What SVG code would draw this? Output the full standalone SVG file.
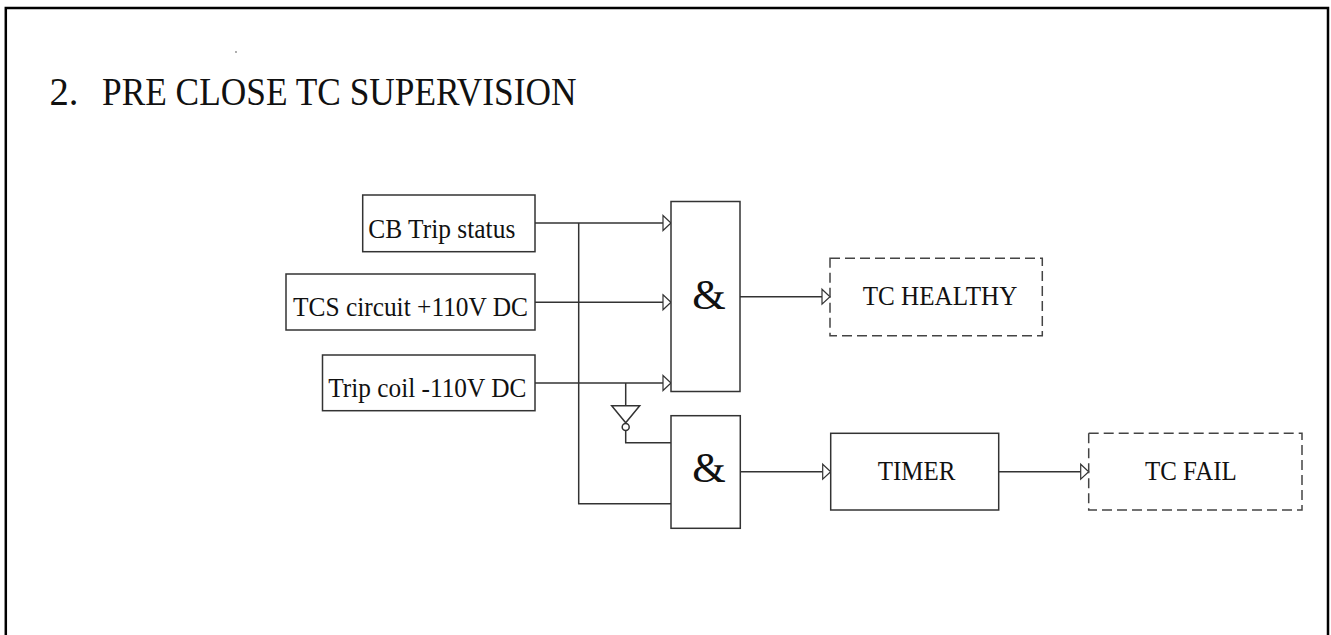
<svg xmlns="http://www.w3.org/2000/svg" width="1331" height="635" viewBox="0 0 1331 635">
<style>
.t{font-family:"Liberation Serif","Times New Roman",serif;fill:#111;}
.box{fill:#fff;stroke:#333;stroke-width:1.5;}
.dbox{fill:none;stroke:#444;stroke-width:1.5;stroke-dasharray:10 5;}
.w{fill:none;stroke:#333;stroke-width:1.5;}
</style>
<defs>
<marker id="arr" markerUnits="userSpaceOnUse" markerWidth="12" markerHeight="18" refX="8" refY="7.5" orient="auto" overflow="visible">
<path d="M0,0 L8,7.5 L0,15 Z" fill="#fff" stroke="#333" stroke-width="1.2"/>
</marker>
</defs>
<rect width="1331" height="635" fill="#fff"/>
<path d="M5.8,636 V8 H1328 V636" fill="none" stroke="#000" stroke-width="2.5"/>
<circle cx="236" cy="52" r="0.9" fill="#888"/>
<g id="title">
<text class="t" x="49.5" y="105" font-size="40" textLength="29" lengthAdjust="spacingAndGlyphs">2.</text>
<text class="t" x="102" y="105" font-size="40" textLength="474.5" lengthAdjust="spacingAndGlyphs">PRE CLOSE TC SUPERVISION</text>
</g>
<g id="connectors">
<path class="w" d="M535,223 H671" marker-end="url(#arr)"/>
<path class="w" d="M535,302.3 H671" marker-end="url(#arr)"/>
<path class="w" d="M535,383 H671" marker-end="url(#arr)"/>
<path class="w" d="M578.7,223 V503.7 H671"/>
<path class="w" d="M625.7,383 V405.7"/>
<path class="w" d="M625.7,430.5 V442.7 H671"/>
<path class="w" d="M740,296.7 H830" marker-end="url(#arr)"/>
<path class="w" d="M740,471.7 H830.7" marker-end="url(#arr)"/>
<path class="w" d="M998.7,471.7 H1088.7" marker-end="url(#arr)"/>
</g>
<g id="inverter">
<path d="M611.7,405.7 H639.7 L625.7,422.7 Z" fill="#fff" stroke="#333" stroke-width="1.5"/>
<circle cx="625.7" cy="427" r="3.5" fill="#fff" stroke="#333" stroke-width="1.5"/>
</g>
<g id="cb-trip-status">
<rect class="box" x="362.7" y="195" width="172.3" height="56.7"/>
<text class="t" x="368.3" y="237.5" font-size="27" textLength="147" lengthAdjust="spacingAndGlyphs">CB Trip status</text>
</g>
<g id="tcs-circuit">
<rect class="box" x="286" y="274" width="249" height="56"/>
<text class="t" x="293" y="316" font-size="27" textLength="235" lengthAdjust="spacingAndGlyphs">TCS circuit +110V DC</text>
</g>
<g id="trip-coil">
<rect class="box" x="322.5" y="355" width="212.5" height="55.7"/>
<text class="t" x="328.3" y="397" font-size="27" textLength="198" lengthAdjust="spacingAndGlyphs">Trip coil -110V DC</text>
</g>
<g id="and1">
<rect class="box" x="671" y="201.5" width="69" height="190"/>
<text class="t" x="709" y="309" font-size="43" text-anchor="middle">&amp;</text>
</g>
<g id="and2">
<rect class="box" x="671" y="415.7" width="69.3" height="112.6"/>
<text class="t" x="709" y="482" font-size="43" text-anchor="middle">&amp;</text>
</g>
<g id="tc-healthy">
<rect class="dbox" x="830" y="258.3" width="212.3" height="77.4"/>
<text class="t" x="862.7" y="305" font-size="27" textLength="154.6" lengthAdjust="spacingAndGlyphs">TC HEALTHY</text>
</g>
<g id="timer">
<rect class="box" x="830.7" y="433.3" width="168" height="76.7"/>
<text class="t" x="877.7" y="480" font-size="27" textLength="77.6" lengthAdjust="spacingAndGlyphs">TIMER</text>
</g>
<g id="tc-fail">
<rect class="dbox" x="1088.7" y="433.3" width="213.3" height="76.7"/>
<text class="t" x="1145" y="480" font-size="27" textLength="91.7" lengthAdjust="spacingAndGlyphs">TC FAIL</text>
</g>
</svg>
